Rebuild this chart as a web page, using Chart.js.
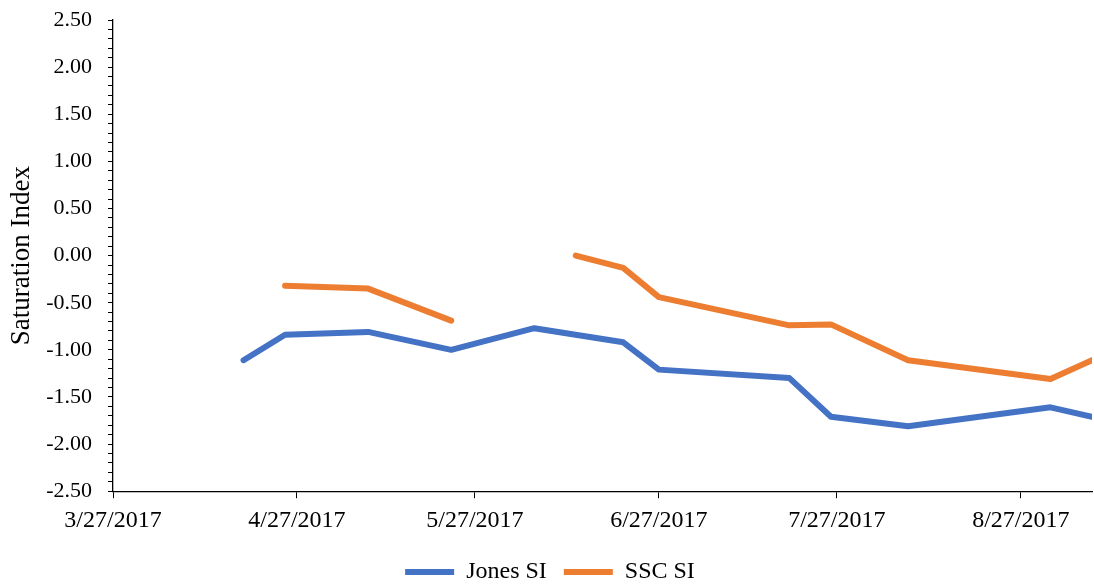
<!DOCTYPE html>
<html>
<head>
<meta charset="utf-8">
<script src="https://cdn.jsdelivr.net/npm/chart.js@4.4.0/dist/chart.umd.min.js"></script>
<style>
html,body{margin:0;padding:0;background:#fff;}
#wrap{width:1094px;height:587px;position:relative;}
</style>
</head>
<body>
<div id="wrap"><canvas id="c" width="1094" height="587"></canvas></div>
<script>
// ---- data ----
const sampleDates = ['4/18/2017','4/25/2017','5/9/2017','5/23/2017','6/6/2017','6/13/2017','6/21/2017','6/27/2017','7/19/2017','7/26/2017','8/8/2017','9/1/2017','9/8/2017'];
const jonesSI = [-1.11,-0.84,-0.81,-1.00,-0.77,null,-0.92,-1.21,-1.30,-1.71,-1.81,-1.61,-1.71];
const sscSI   = [null,-0.32,-0.35,-0.69,null,0.00,-0.13,-0.44,-0.74,-0.73,-1.11,-1.31,-1.11];
const xTickLabels = ['3/27/2017','4/27/2017','5/27/2017','6/27/2017','7/27/2017','8/27/2017'];
const xMinLabel = '3/27/2017';
const xMaxLabel = '9/8/2017';
const yTickLabels = ['2.50','2.00','1.50','1.00','0.50','0.00','-0.50','-1.00','-1.50','-2.00','-2.50'];
const seriesNames = ['Jones SI','SSC SI'];
const yTitle = 'Saturation Index';

// ---- helpers ----
function toDay(s){const [m,d,y]=s.split('/').map(Number);return Math.round(Date.UTC(y,m-1,d)/86400000);}
const day0 = toDay(xMinLabel);
function fmt(dayNum){const dt=new Date((dayNum+day0)*86400000);return (dt.getUTCMonth()+1)+'/'+dt.getUTCDate()+'/'+dt.getUTCFullYear();}
const xs = sampleDates.map(s=>toDay(s)-day0);
const xTickVals = xTickLabels.map(s=>toDay(s)-day0);
const yVals = yTickLabels.map(Number);
const yMin = Math.min(...yVals), yMax = Math.max(...yVals);

const FAM = "'Liberation Serif','Times New Roman',serif";

new Chart(document.getElementById('c'), {
  type:'line',
  data:{
    datasets:[
      {label:seriesNames[0], data:xs.map((x,i)=>({x:x,y:jonesSI[i]})), borderColor:'#4472C4', backgroundColor:'#4472C4',
       borderWidth:6, pointRadius:0, borderCapStyle:'round', borderJoinStyle:'round', spanGaps:true, tension:0},
      {label:seriesNames[1], data:xs.map((x,i)=>({x:x,y:sscSI[i]})), borderColor:'#ED7D31', backgroundColor:'#ED7D31',
       borderWidth:6, pointRadius:0, borderCapStyle:'round', borderJoinStyle:'round', spanGaps:false, tension:0}
    ]
  },
  options:{
    responsive:false, animation:false,
    layout:{padding:{left:8,right:2,top:20,bottom:-7}},
    plugins:{
      legend:{position:'bottom', labels:{usePointStyle:true, pointStyle:'line', pointStyleWidth:49, boxWidth:49, boxHeight:10, padding:17, color:'#000', font:{family:FAM,size:24}}},
      tooltip:{enabled:false}
    },
    scales:{
      x:{type:'linear', min:0, max:toDay(xMaxLabel)-day0,
        afterBuildTicks:(ax)=>{ax.ticks = xTickVals.map(v=>({value:v}));},
        ticks:{autoSkip:false, maxRotation:0, color:'#000', font:{family:FAM,size:24}, padding:8, callback:(v)=>fmt(v)},
        grid:{drawOnChartArea:false, drawTicks:true, tickLength:7, color:'#000'},
        border:{color:'#000', width:1.3}
      },
      y:{min:yMin, max:yMax,
        afterBuildTicks:(ax)=>{const t=[];for(let i=Math.round(yMin*10);i<=Math.round(yMax*10);i++)t.push({value:i/10});ax.ticks=t;},
        afterFit:(s)=>{s.paddingTop=0; s.width=105;},
        ticks:{autoSkip:false, color:'#000', font:{family:FAM,size:22}, padding:16,
          callback:(v)=>{const k=Math.round(v*10);return (k%5===0)?(k/10).toFixed(2):'';}},
        grid:{drawOnChartArea:false, drawTicks:true, tickLength:5, color:'#000'},
        border:{color:'#000', width:1.3},
        title:{display:true, text:yTitle, color:'#000', font:{family:FAM,size:27,lineHeight:1}, padding:{top:0,bottom:0}}
      }
    }
  }
});
</script>
</body>
</html>
